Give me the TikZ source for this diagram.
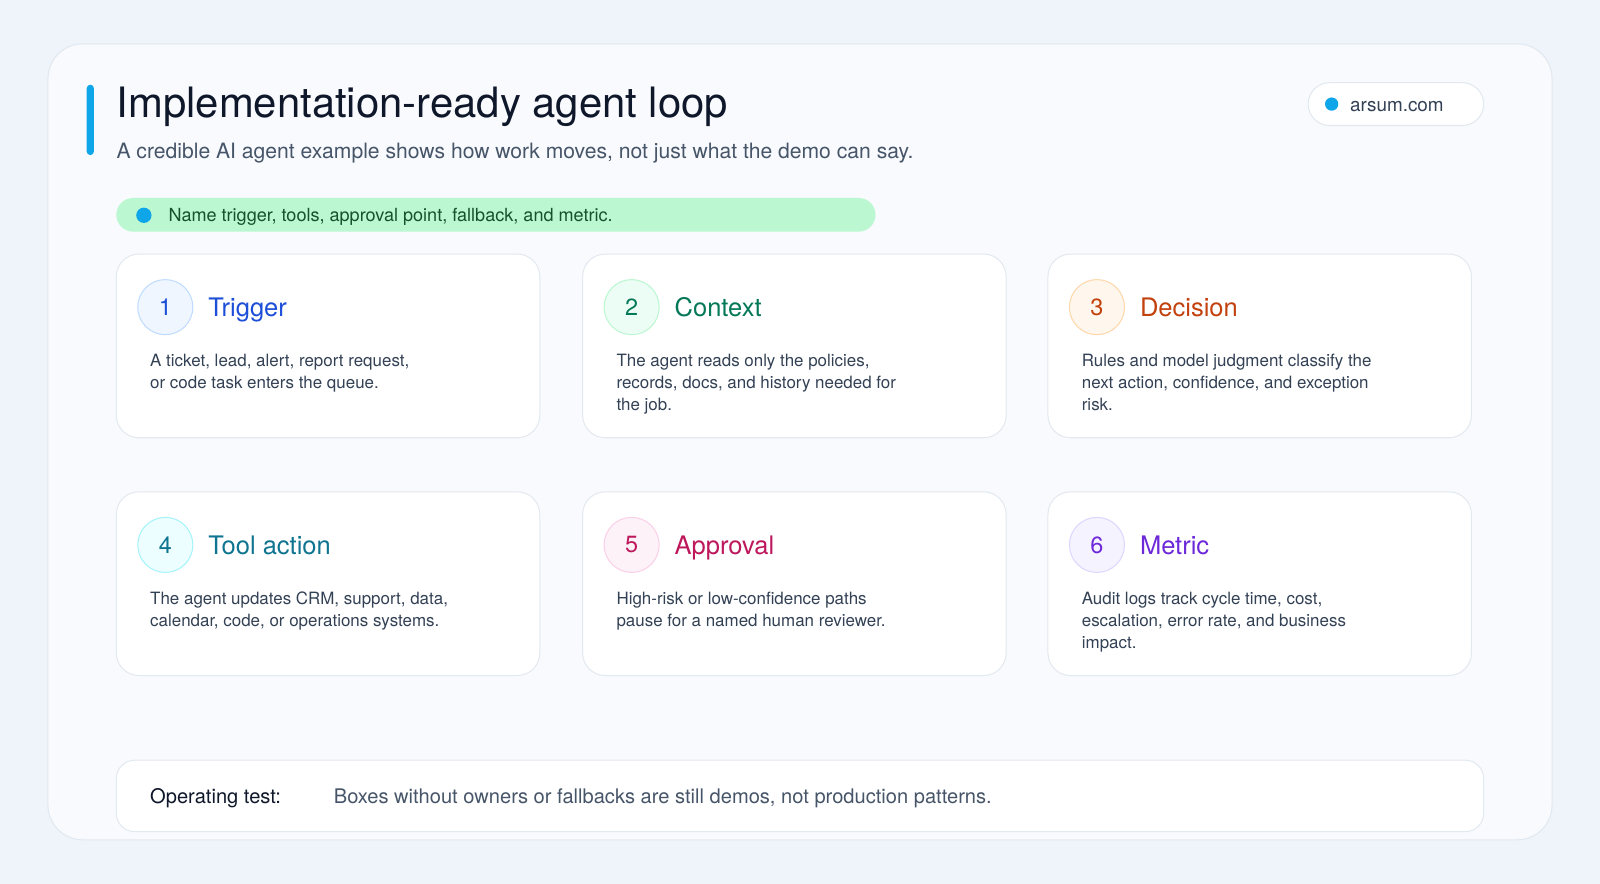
\documentclass[tikz,border=0pt]{standalone}
\usepackage{fontspec}
\setmainfont{TeX Gyre Heros}
\definecolor{pagebg}{HTML}{EEF4FA}
\definecolor{panelbg}{HTML}{F8FAFD}
\definecolor{panelline}{HTML}{E1E8F0}
\definecolor{cardline}{HTML}{E3E9F0}
\definecolor{accent}{HTML}{0EA5E9}
\definecolor{ink}{HTML}{0F172A}
\definecolor{subink}{HTML}{475569}
\definecolor{bodyink}{HTML}{334155}
\definecolor{pillgreen}{HTML}{BBF7D0}
\definecolor{pillink}{HTML}{14532D}
\definecolor{trigink}{HTML}{1D4ED8}\definecolor{trigfill}{HTML}{EFF6FF}\definecolor{trigline}{HTML}{BFDBFE}
\definecolor{ctxink}{HTML}{047857}\definecolor{ctxfill}{HTML}{ECFDF5}\definecolor{ctxline}{HTML}{BBF7D0}
\definecolor{decink}{HTML}{C2410C}\definecolor{decfill}{HTML}{FFF7ED}\definecolor{decline}{HTML}{FED7AA}
\definecolor{toolink}{HTML}{0E7490}\definecolor{toolfill}{HTML}{ECFEFF}\definecolor{toolline}{HTML}{A5F3FC}
\definecolor{apprink}{HTML}{BE185D}\definecolor{apprfill}{HTML}{FDF2F8}\definecolor{apprline}{HTML}{FBCFE8}
\definecolor{metrink}{HTML}{6D28D9}\definecolor{metrfill}{HTML}{F5F3FF}\definecolor{metrline}{HTML}{DDD6FE}
\tikzset{
  card/.style={draw=cardline, fill=white, line width=1pt, rounded corners=22pt,
    minimum width=415pt, minimum height=180pt, inner sep=0pt},
  numdisc/.style={circle, line width=1pt, minimum size=54pt, inner sep=0pt,
    font=\fontsize{23}{23}\selectfont},
  steptitle/.style={anchor=base west, inner sep=0pt, font=\fontsize{25}{25}\selectfont},
  stepbody/.style={anchor=north west, inner sep=0pt, align=left, text=bodyink,
    font=\fontsize{16.6}{21.5}\selectfont},
}
\begin{document}
\begin{tikzpicture}[x=1pt, y=-1pt]
				% Page and panel
				\fill[pagebg] (0,0) rectangle (1568,866);
				\useasboundingbox (0,0) rectangle (1568,866);
				\draw[panelline, fill=panelbg, line width=1pt, rounded corners=34pt] (47,43) rectangle (1521,823);

				% Header
				\fill[accent, rounded corners=3.5pt] (85,83) rectangle (92,152);
				\node[anchor=base west, inner sep=0pt, text=ink, font=\fontsize{41}{41}\selectfont] (title) at (114,115) {Implementation-ready agent loop};
				\node[anchor=base west, inner sep=0pt, text=subink, font=\fontsize{20.7}{20.7}\selectfont] (subtitle) at (114,155.5) {A credible AI agent example shows how work moves, not just what the demo can say.};
				\node[draw=panelline, fill=white, line width=1pt, rounded corners=21pt, minimum width=172pt, minimum height=42pt] (site) at (1368,102) {};
				\fill[accent] (1305,102) circle (6.5);
				\node[anchor=base west, inner sep=0pt, text=bodyink, font=\fontsize{18.5}{18.5}\selectfont] (sitename) at (1323,109) {arsum.com};

				% Rule pill
				\node[fill=pillgreen, rounded corners=16.5pt, minimum width=744pt, minimum height=33pt, inner sep=0pt] (rulepill) at (486,210.5) {};
				\fill[accent] (141,211) circle (7.5);
				\node[anchor=base west, inner sep=0pt, text=pillink, font=\fontsize{17.7}{17.7}\selectfont] (ruletext) at (165,217) {Name trigger, tools, approval point, fallback, and metric.};

				% Trigger
				\node[card] (trigcard) at (321.5,339) {};
				\node[numdisc, draw=trigline, fill=trigfill, text=trigink] (trignum) at (162,301) {1};
				\node[steptitle, text=trigink] (trigtitle) at (204,310) {Trigger};
				\node[stepbody] (trigbody) at (147,347) {A ticket, lead, alert, report request,\\or code task enters the queue.};

				% Context
				\node[card] (ctxcard) at (778.5,339) {};
				\node[numdisc, draw=ctxline, fill=ctxfill, text=ctxink] (ctxnum) at (619,301) {2};
				\node[steptitle, text=ctxink] (ctxtitle) at (661,310) {Context};
				\node[stepbody] (ctxbody) at (604,347) {The agent reads only the policies,\\records, docs, and history needed for\\the job.};

				% Decision
				\node[card] (deccard) at (1234.5,339) {};
				\node[numdisc, draw=decline, fill=decfill, text=decink] (decnum) at (1075,301) {3};
				\node[steptitle, text=decink] (dectitle) at (1117,310) {Decision};
				\node[stepbody] (decbody) at (1060,347) {Rules and model judgment classify the\\next action, confidence, and exception\\risk.};

				% Tool action
				\node[card] (toolcard) at (321.5,572) {};
				\node[numdisc, draw=toolline, fill=toolfill, text=toolink] (toolnum) at (162,534) {4};
				\node[steptitle, text=toolink] (tooltitle) at (204,543) {Tool action};
				\node[stepbody] (toolbody) at (147,580) {The agent updates CRM, support, data,\\calendar, code, or operations systems.};

				% Approval
				\node[card] (apprcard) at (778.5,572) {};
				\node[numdisc, draw=apprline, fill=apprfill, text=apprink] (apprnum) at (619,534) {5};
				\node[steptitle, text=apprink] (apprtitle) at (661,543) {Approval};
				\node[stepbody] (apprbody) at (604,580) {High-risk or low-confidence paths\\pause for a named human reviewer.};

				% Metric
				\node[card] (metrcard) at (1234.5,572) {};
				\node[numdisc, draw=metrline, fill=metrfill, text=metrink] (metrnum) at (1075,534) {6};
				\node[steptitle, text=metrink] (metrtitle) at (1117,543) {Metric};
				\node[stepbody] (metrbody) at (1060,580) {Audit logs track cycle time, cost,\\escalation, error rate, and business\\impact.};

				% Operating test
				\node[draw=cardline, fill=white, line width=1pt, rounded corners=18pt, minimum width=1340pt, minimum height=70pt] (optest) at (784,780) {};
				\node[anchor=base west, inner sep=0pt, text=ink, font=\fontsize{19.7}{19.7}\selectfont] (oplabel) at (147,787) {Operating test:};
				\node[anchor=base west, inner sep=0pt, text=subink, font=\fontsize{19.7}{19.7}\selectfont] (optext) at (327,787) {Boxes without owners or fallbacks are still demos, not production patterns.};
\end{tikzpicture}
\end{document}
